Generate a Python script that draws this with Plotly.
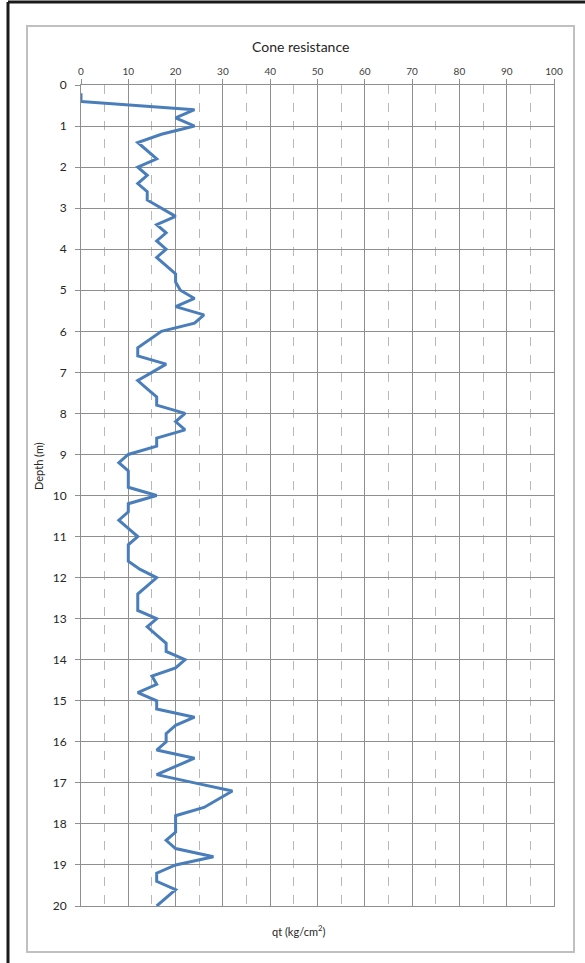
import plotly.graph_objects as go

# Cone penetration test profile: depth (m) vs cone resistance qt (kg/cm²)
depth_m = [
    0.2, 0.4, 0.6, 0.8, 1.0, 1.2, 1.4, 1.6, 1.8, 2.0,
    2.2, 2.4, 2.6, 2.8, 3.0, 3.2, 3.4, 3.6, 3.8, 4.0,
    4.2, 4.4, 4.6, 4.8, 5.0, 5.2, 5.4, 5.6, 5.8, 6.0,
    6.2, 6.4, 6.6, 6.8, 7.0, 7.2, 7.4, 7.6, 7.8, 8.0,
    8.2, 8.4, 8.6, 8.8, 9.0, 9.2, 9.4, 9.6, 9.8, 10.0,
    10.2, 10.4, 10.6, 10.8, 11.0, 11.2, 11.4, 11.6, 11.8, 12.0,
    12.2, 12.4, 12.6, 12.8, 13.0, 13.2, 13.4, 13.6, 13.8, 14.0,
    14.2, 14.4, 14.6, 14.8, 15.0, 15.2, 15.4, 15.6, 15.8, 16.0,
    16.2, 16.4, 16.6, 16.8, 17.0, 17.2, 17.4, 17.6, 17.8, 18.0,
    18.2, 18.4, 18.6, 18.8, 19.0, 19.2, 19.4, 19.6, 19.8, 20.0,
]
qt_kg_cm2 = [
    0, 0, 24, 20, 24, 17, 12, 14, 16, 12,
    14, 12, 14, 14, 17, 20, 16, 18, 16, 18,
    16, 18, 20, 20, 21, 24, 20, 26, 24, 17,
    14.5, 12, 12, 18, 15, 12, 14, 16, 16, 22,
    20, 22, 16, 16, 10, 8, 10, 10, 10, 16,
    10, 10, 8, 10, 12, 10, 10, 10, 12.5, 16,
    14, 12, 12, 12, 16, 14, 16, 18, 18, 22,
    20, 15, 16, 12, 16, 16, 24, 20, 18, 18,
    16, 24, 20, 16, 24, 32, 29, 26, 20, 20,
    20, 18, 20, 28, 20, 16, 16, 20, 18, 16,
]

x_ticks = list(range(0, 101, 10))
y_ticks = list(range(0, 21, 1))

W, H = 585, 963
L, R, T, B = 81, 554, 85, 906  # plot area in pixels

GRID = "#8f8f8f"
MINOR = "#b8b8b8"
FONT = "Lato, 'Open Sans', sans-serif"

fig = go.Figure()
fig.add_trace(go.Scatter(
    x=qt_kg_cm2, y=depth_m, mode="lines",
    line=dict(color="#4a7ebb", width=3),
    showlegend=False, hoverinfo="x+y",
))

fig.update_xaxes(
    side="top", range=[0, 100], tickvals=x_ticks,
    ticktext=[str(v) for v in x_ticks],
    showgrid=True, gridcolor=GRID, gridwidth=1,
    ticks="outside", ticklen=5, tickcolor=GRID,
    showline=True, linecolor=GRID, linewidth=1, mirror=True,
    zeroline=False,
    tickfont=dict(family=FONT, size=10, color="#404040"),
    minor=dict(dtick=5, tick0=0, showgrid=True, gridcolor=MINOR,
               griddash="dash", gridwidth=1),
)
fig.update_yaxes(
    range=[20, 0], tickvals=y_ticks,
    ticktext=[str(v) for v in y_ticks],
    showgrid=True, gridcolor=GRID, gridwidth=1,
    ticks="outside", ticklen=5, tickcolor=GRID,
    ticklabelstandoff=6,
    showline=True, linecolor=GRID, linewidth=1, mirror=True,
    zeroline=False,
    tickfont=dict(family=FONT, size=12, color="#262626"),
)

pw, ph = R - L, B - T

def px_x(p):
    return (p - L) / pw

def px_y(p):
    return 1 - (p - T) / ph

fig.add_annotation(
    text="Cone resistance", xref="paper", yref="paper",
    x=px_x(300), y=px_y(47), showarrow=False,
    xanchor="center", yanchor="middle",
    font=dict(family=FONT, size=14, color="#262626"),
)
fig.add_annotation(
    text="Depth (m)", xref="paper", yref="paper",
    x=px_x(38), y=px_y(466), showarrow=False, textangle=-90,
    xanchor="center", yanchor="middle",
    font=dict(family=FONT, size=11, color="#262626"),
)
fig.add_annotation(
    text="qt (kg/cm<sup>2</sup>)", xref="paper", yref="paper",
    x=px_x(298), y=px_y(930), showarrow=False,
    xanchor="center", yanchor="middle",
    font=dict(family=FONT, size=11, color="#262626"),
)

# chart-area frame (light grey) and the outer dark border
fig.add_shape(type="rect", xref="paper", yref="paper",
              x0=px_x(27), x1=px_x(574), y0=px_y(952), y1=px_y(26),
              line=dict(color="#c0c0c0", width=2), layer="below")
fig.add_shape(type="line", xref="paper", yref="paper",
              x0=px_x(8), x1=px_x(8), y0=px_y(963), y1=px_y(2),
              line=dict(color="#1a1a1a", width=3))
fig.add_shape(type="line", xref="paper", yref="paper",
              x0=px_x(8), x1=px_x(585), y0=px_y(2), y1=px_y(2),
              line=dict(color="#1a1a1a", width=3))

fig.update_layout(
    width=W, height=H,
    margin=dict(l=L, r=W - R, t=T, b=H - B),
    paper_bgcolor="white", plot_bgcolor="white",
)

fig.write_html("out.html")
